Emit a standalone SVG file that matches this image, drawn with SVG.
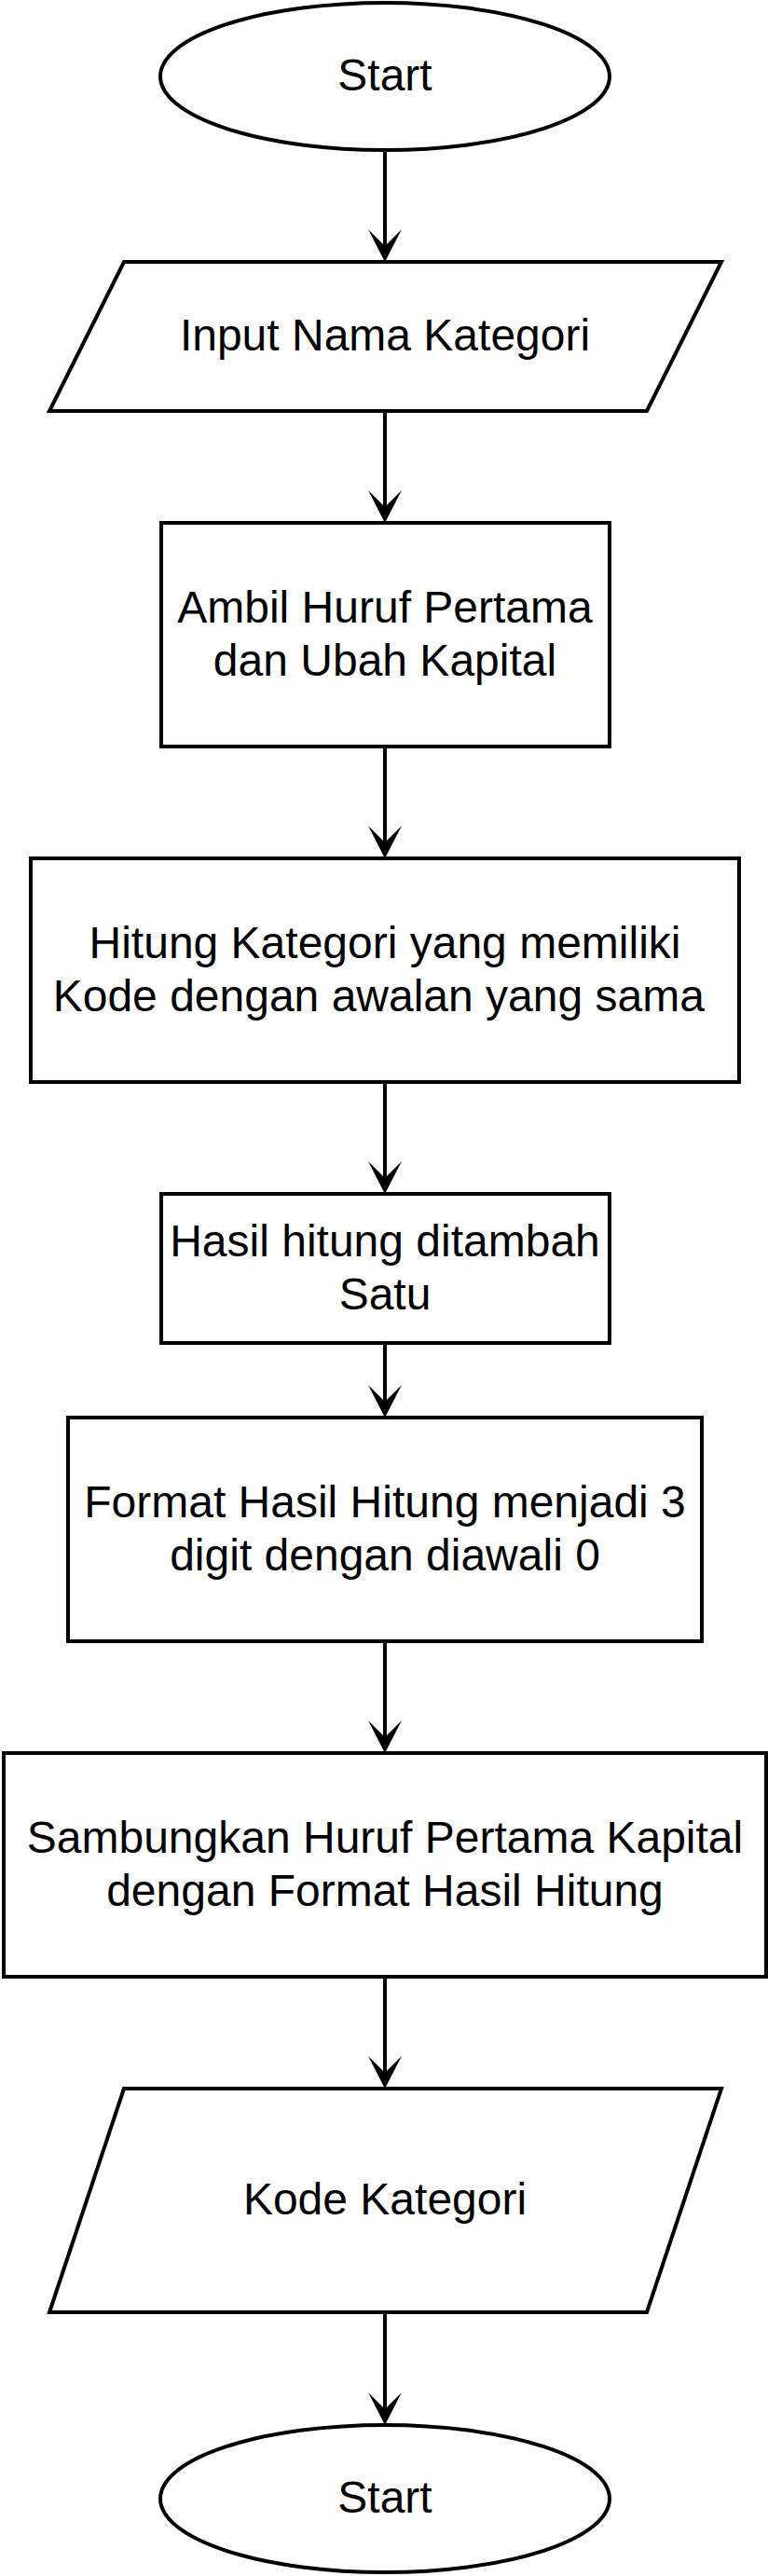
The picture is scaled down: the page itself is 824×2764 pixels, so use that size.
<svg xmlns="http://www.w3.org/2000/svg" width="824" height="2764" viewBox="0 0 824 2764">
<style>
.s{fill:#fff;stroke:#000;stroke-width:4}
.t{font-family:"Liberation Sans",Arial,Helvetica,sans-serif;font-size:48px;fill:#000;text-anchor:middle}
.c{fill:none;stroke:#000;stroke-width:4}
</style>
<defs>
<marker id="arr" markerUnits="userSpaceOnUse" markerWidth="36" markerHeight="36" viewBox="0 0 36 36" refX="18" refY="18" orient="auto">
<path d="M0,0 L35,18 L0,36 L18,18 Z" fill="#000"/>
</marker>
</defs>
<rect width="824" height="2764" fill="#fff"/>
<g id="connectors">
<line class="c" x1="413" y1="161" x2="413" y2="264" marker-end="url(#arr)"/>
<line class="c" x1="413" y1="441" x2="413" y2="544" marker-end="url(#arr)"/>
<line class="c" x1="413" y1="801" x2="413" y2="904" marker-end="url(#arr)"/>
<line class="c" x1="413" y1="1161" x2="413" y2="1264" marker-end="url(#arr)"/>
<line class="c" x1="413" y1="1441" x2="413" y2="1504" marker-end="url(#arr)"/>
<line class="c" x1="413" y1="1761" x2="413" y2="1864" marker-end="url(#arr)"/>
<line class="c" x1="413" y1="2121" x2="413" y2="2224" marker-end="url(#arr)"/>
<line class="c" x1="413" y1="2481" x2="413" y2="2585" marker-end="url(#arr)"/>
</g>
<g id="start">
<ellipse class="s" cx="413" cy="82" rx="241" ry="79"/>
<text class="t" x="413" y="96.5">Start</text>
</g>
<g id="input">
<polygon class="s" points="133,281 774,281 694,441 53,441"/>
<text class="t" x="413" y="376">Input Nama Kategori</text>
</g>
<g id="ambil">
<rect class="s" x="173" y="561" width="481" height="240"/>
<text class="t" x="413" y="668">Ambil Huruf Pertama</text>
<text class="t" x="413" y="725">dan Ubah Kapital</text>
</g>
<g id="hitung">
<rect class="s" x="33" y="921" width="760" height="240"/>
<text class="t" x="413" y="1028">Hitung Kategori yang memiliki</text>
<text class="t" x="406.3" y="1085">Kode dengan awalan yang sama</text>
</g>
<g id="tambah">
<rect class="s" x="173" y="1281" width="481" height="160"/>
<text class="t" x="413" y="1348">Hasil hitung ditambah</text>
<text class="t" x="413" y="1405">Satu</text>
</g>
<g id="format">
<rect class="s" x="73" y="1521" width="680" height="240"/>
<text class="t" x="413" y="1628">Format Hasil Hitung menjadi 3</text>
<text class="t" x="413" y="1685">digit dengan diawali 0</text>
</g>
<g id="sambung">
<rect class="s" x="4" y="1881" width="818" height="240"/>
<text class="t" x="413" y="1988">Sambungkan Huruf Pertama Kapital</text>
<text class="t" x="413" y="2045">dengan Format Hasil Hitung</text>
</g>
<g id="kode">
<polygon class="s" points="133,2241 774,2241 694,2481 53,2481"/>
<text class="t" x="413" y="2376">Kode Kategori</text>
</g>
<g id="end">
<ellipse class="s" cx="413" cy="2681" rx="241" ry="79"/>
<text class="t" x="413" y="2696">Start</text>
</g>
</svg>
